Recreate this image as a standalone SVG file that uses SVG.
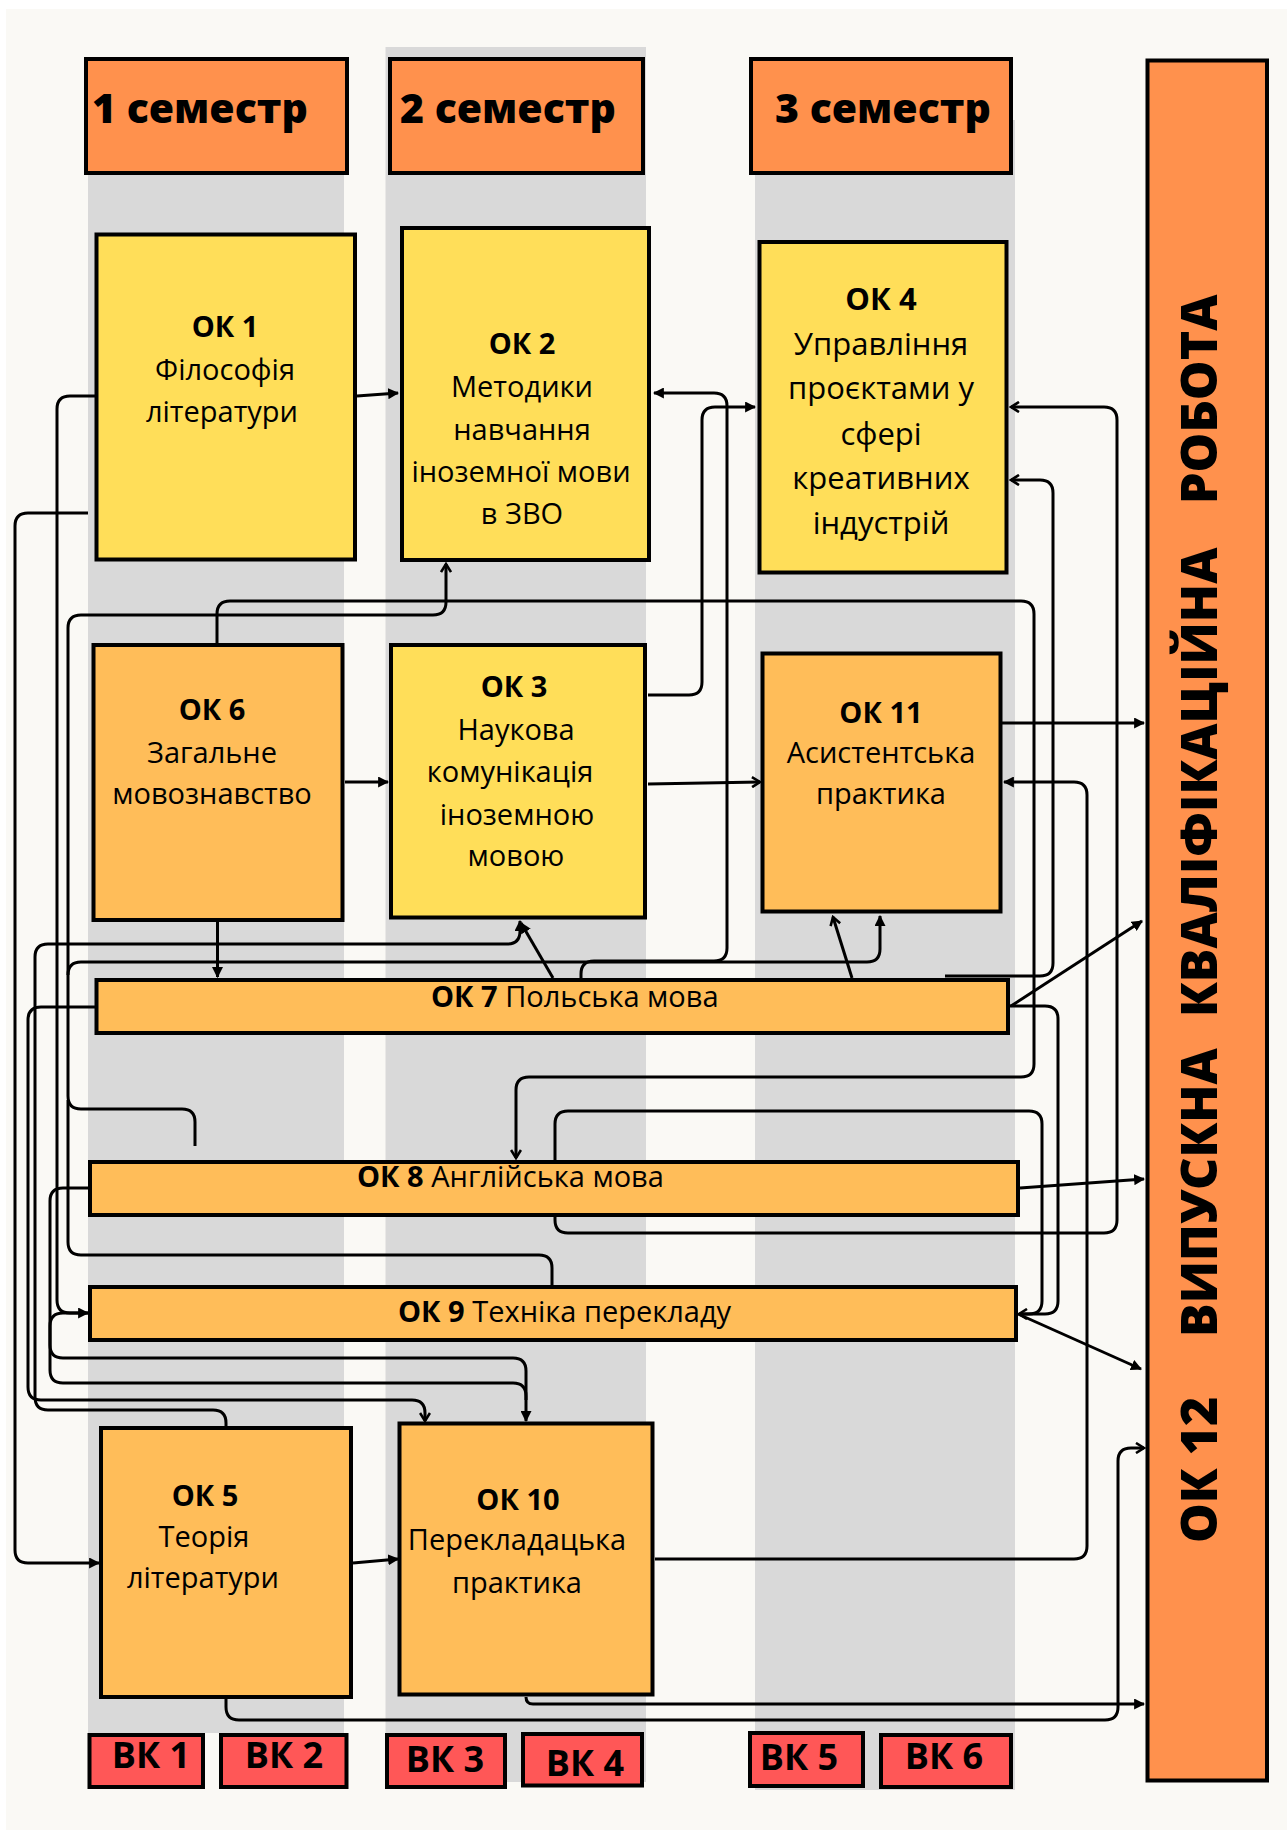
<svg xmlns="http://www.w3.org/2000/svg" width="1287" height="1830" viewBox="0 0 1287 1830">
<style>
text{font-family:"Open Sans","Noto Sans","DejaVu Sans",sans-serif;fill:#000}
.t{font-size:29px;text-anchor:middle}
.t4{font-size:31px;text-anchor:middle}
.s{font-size:29px;text-anchor:start}
.b{font-weight:700}
.h{font-size:41px;font-weight:800}
.vk{font-size:36px;font-weight:700;text-anchor:middle}
.v{font-size:50px;font-weight:800}
.bx{stroke:#000;stroke-width:4}
.y{fill:#FFDE59}
.o{fill:#FFBD59}
.r{fill:#FF914D}
.k{fill:#FF5757}
.col{fill:#D9D9D9}
.c{fill:none;stroke:#000;stroke-width:3;stroke-linejoin:round}
.af{marker-end:url(#af)}
.ac{marker-end:url(#ac)}
</style>
<defs>
<marker id="af" viewBox="0 0 10 10" refX="9" refY="5" markerWidth="11" markerHeight="11" markerUnits="userSpaceOnUse" orient="auto"><path d="M0,0 L10,5 L0,10 z" fill="#000"/></marker>
<marker id="ac" viewBox="0 0 12 12" refX="10" refY="6" markerWidth="12" markerHeight="12" markerUnits="userSpaceOnUse" orient="auto"><path d="M2,1 L10,6 L2,11" fill="none" stroke="#000" stroke-width="2.6"/></marker>
</defs>
<rect x="0" y="0" width="1287" height="1830" fill="#FFFFFF"/>
<rect x="6" y="9" width="1281" height="1821" fill="#FAF9F5"/>
<g id="columns">
<rect class="col" x="88" y="120" width="256" height="1613"/>
<rect class="col" x="385.5" y="47" width="260.5" height="1735"/>
<rect class="col" x="755" y="120" width="260" height="1670"/>
</g>
<g id="connectors">
<path class="c af" d="M357,396 L398,393"/>
<path class="c af" d="M581,978 L581,974 Q581,961 594,961 L714,961 Q727,961 727,948 L727,406 Q727,393 714,393 L654,393"/>
<path class="c af" d="M648,695 L689,695 Q702,695 702,682 L702,420 Q702,407 715,407 L755,407"/>
<path class="c ac" d="M217,643 L217,614 Q217,601 230,601 L1021,601 Q1034,601 1034,614 L1034,1064 Q1034,1077 1021,1077 L529,1077 Q516,1077 516,1090 L516,1158"/>
<path class="c ac" d="M195,1146 L195,1122 Q195,1109 182,1109 L81,1109 Q68,1109 68,1096 L68,628 Q68,615 81,615 L433,615 Q446,615 446,602 L446,564"/>
<path class="c" d="M552,1285 L552,1268 Q552,1255 539,1255 L81,1255 Q68,1255 68,1242 L68,1100"/>
<path class="c af" d="M68,975 Q68,962 81,962 L867,962 Q880,962 880,949 L880,916"/>
<path class="c af" d="M95,396 L70,396 Q57,396 57,409 L57,1300 Q57,1313 70,1313 L88,1313"/>
<path class="c af" d="M88,513 L28,513 Q15,513 15,526 L15,1550 Q15,1563 28,1563 L99,1563"/>
<path class="c af" d="M88,1188 L63,1188 Q50,1188 50,1201 L50,1370 Q50,1383 63,1383 L513,1383 Q526,1383 526,1396 L526,1421"/>
<path class="c" d="M88,1313 L63,1313 Q50,1313 50,1326 L50,1345 Q50,1358 63,1358 L513,1358 Q526,1358 526,1371 L526,1400"/>
<path class="c ac" d="M95,1007 L41,1007 Q28,1007 28,1020 L28,1387 Q28,1400 41,1400 L412,1400 Q425,1400 425,1413 L425,1421"/>
<path class="c af" d="M226,1426 L226,1423 Q226,1410 213,1410 L48,1410 Q35,1410 35,1397 L35,957 Q35,944 48,944 L507,944 Q520,944 520,931 L520,921"/>
<path class="c af" d="M553,978 L521,923"/>
<path class="c ac" d="M852,978 L833,917"/>
<path class="c ac" d="M945,976 L1040,976 Q1053,976 1053,963 L1053,493 Q1053,480 1040,480 L1011,480"/>
<path class="c ac" d="M1010,1006 L1045,1006 Q1058,1006 1058,1019 L1058,1301 Q1058,1314 1045,1314 L1019,1314"/>
<path class="c" d="M555,1160 L555,1124 Q555,1111 568,1111 L1029,1111 Q1042,1111 1042,1124 L1042,1301 Q1042,1314 1029,1314 L1022,1314"/>
<path class="c ac" d="M555,1217 L555,1220 Q555,1233 568,1233 L1104,1233 Q1117,1233 1117,1220 L1117,420 Q1117,407 1104,407 L1011,407"/>
<path class="c af" d="M1002,723 L1144,723"/>
<path class="c af" d="M655,1559 L1074,1559 Q1087,1559 1087,1546 L1087,795 Q1087,782 1074,782 L1004,782"/>
<path class="c af" d="M1011,1006 L1142,921"/>
<path class="c af" d="M1020,1188 L1144,1179"/>
<path class="c af" d="M1018,1314 L1141,1369"/>
<path class="c af" d="M526,1697 Q526,1704 533,1704 L1144,1704"/>
<path class="c ac" d="M226,1699 L226,1707 Q226,1720 239,1720 L1105,1720 Q1118,1720 1118,1707 L1118,1461 Q1118,1448 1131,1448 L1144,1448"/>
<path class="c af" d="M217.5,922 L217.5,977"/>
<path class="c af" d="M345,782 L388,782"/>
<path class="c ac" d="M648,784 L760,782"/>
<path class="c af" d="M353,1563 L398,1559"/>
</g>
<g id="sem1"><rect class="bx r" x="86" y="59" width="261" height="114"/><text class="h" x="92" y="123">1 семестр</text></g>
<g id="sem2"><rect class="bx r" x="390" y="59" width="253" height="114"/><text class="h" x="400" y="123">2 семестр</text></g>
<g id="sem3"><rect class="bx r" x="751" y="59" width="260" height="114"/><text class="h" x="775" y="123">3 семестр</text></g>
<g id="ok1"><rect class="bx y" x="96.5" y="234.5" width="258.5" height="325"/>
<text class="t"><tspan class="b" x="225" y="337">ОК 1</tspan><tspan x="225" y="380">Філософія</tspan><tspan x="222" y="422">літератури</tspan></text></g>
<g id="ok2"><rect class="bx y" x="402" y="228" width="247" height="332"/>
<text class="t"><tspan class="b" x="522" y="354">ОК 2</tspan><tspan x="522" y="397">Методики</tspan><tspan x="522" y="440">навчання</tspan><tspan x="521" y="482">іноземної мови</tspan><tspan x="522" y="524">в ЗВО</tspan></text></g>
<g id="ok4"><rect class="bx y" x="759.5" y="242" width="247" height="330.5"/>
<text class="t4"><tspan class="b" x="881" y="310">ОК 4</tspan><tspan x="881" y="355">Управління</tspan><tspan x="881" y="399">проєктами у</tspan><tspan x="881" y="445">сфері</tspan><tspan x="881" y="489">креативних</tspan><tspan x="881" y="534">індустрій</tspan></text></g>
<g id="ok6"><rect class="bx o" x="93.5" y="645" width="249" height="275"/>
<text class="t"><tspan class="b" x="212" y="720">ОК 6</tspan><tspan x="212" y="763">Загальне</tspan><tspan x="212" y="804">мовознавство</tspan></text></g>
<g id="ok3"><rect class="bx y" x="391" y="645" width="254" height="272.5"/>
<text class="t"><tspan class="b" x="514" y="697">ОК 3</tspan><tspan x="516" y="740">Наукова</tspan><tspan x="510" y="782">комунікація</tspan><tspan x="517" y="825">іноземною</tspan><tspan x="516" y="866">мовою</tspan></text></g>
<g id="ok11"><rect class="bx o" x="762.5" y="653.5" width="238" height="258"/>
<text class="t"><tspan class="b" x="881" y="723">ОК 11</tspan><tspan x="881" y="763">Асистентська</tspan><tspan x="881" y="804">практика</tspan></text></g>
<g id="ok7"><rect class="bx o" x="96.5" y="980" width="911.5" height="53"/>
<text class="s" x="431" y="1007"><tspan class="b">ОК 7</tspan> Польська мова</text></g>
<g id="ok8"><rect class="bx o" x="90" y="1162" width="928" height="53"/>
<text class="s" x="357" y="1187"><tspan class="b">ОК 8</tspan> Англійська мова</text></g>
<g id="ok9"><rect class="bx o" x="90" y="1287" width="926" height="53"/>
<text class="s" x="398" y="1322"><tspan class="b">ОК 9</tspan> Техніка перекладу</text></g>
<g id="ok5"><rect class="bx o" x="101" y="1428" width="250" height="269"/>
<text class="t"><tspan class="b" x="205" y="1506">ОК 5</tspan><tspan x="204" y="1547">Теорія</tspan><tspan x="203" y="1588">літератури</tspan></text></g>
<g id="ok10"><rect class="bx o" x="399.5" y="1423.5" width="253" height="271"/>
<text class="t"><tspan class="b" x="518" y="1510">ОК 10</tspan><tspan x="517" y="1550">Перекладацька</tspan><tspan x="517" y="1593">практика</tspan></text></g>
<g id="ok12"><rect class="bx r" x="1147.5" y="60.5" width="119.5" height="1720"/>
<text class="v" transform="translate(1217,1543) rotate(-90)">ОК 12</text>
<text class="v" transform="translate(1217,1337) rotate(-90)">ВИПУСКНА</text>
<text class="v" transform="translate(1217,1017) rotate(-90)">КВАЛІФІКАЦІЙНА</text>
<text class="v" transform="translate(1217,504) rotate(-90)">РОБОТА</text></g>
<g id="vk1"><rect class="bx k" x="89.5" y="1735" width="113.5" height="52"/><text class="vk" x="151" y="1768">ВК 1</text></g>
<g id="vk2"><rect class="bx k" x="221" y="1735" width="125.5" height="52"/><text class="vk" x="284" y="1768">ВК 2</text></g>
<g id="vk3"><rect class="bx k" x="387" y="1735" width="118" height="52"/><text class="vk" x="445" y="1772">ВК 3</text></g>
<g id="vk4"><rect class="bx k" x="523" y="1734" width="119" height="51.5"/><text class="vk" x="585" y="1776">ВК 4</text></g>
<g id="vk5"><rect class="bx k" x="750" y="1733" width="113" height="53"/><text class="vk" x="799" y="1770">ВК 5</text></g>
<g id="vk6"><rect class="bx k" x="881" y="1735" width="130" height="52"/><text class="vk" x="944" y="1769">ВК 6</text></g>
</svg>
